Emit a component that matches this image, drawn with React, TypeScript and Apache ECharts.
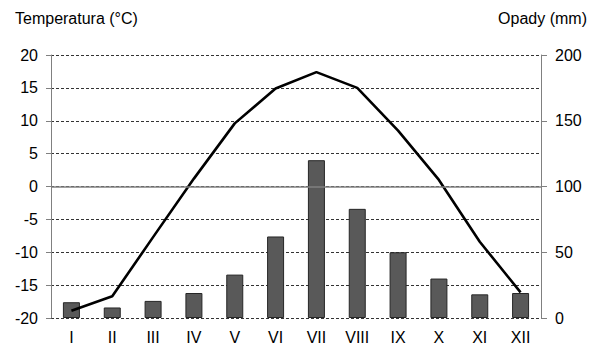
import React, { useEffect, useRef } from "react";
import * as echarts from "echarts";

const months = ["I", "II", "III", "IV", "V", "VI", "VII", "VIII", "IX", "X", "XI", "XII"];
const temperature = [-18.9, -16.7, -7.7, 1.2, 9.6, 14.9, 17.4, 15.0, 8.5, 1.0, -8.4, -16.1];
const precipitation = [12, 8, 13, 19, 33, 62, 120, 83, 50, 30, 18, 19];
const tempTicks = { min: -20, max: 20, interval: 5 };
const precTicks = { min: 0, max: 200, interval: 50 };

const FONT = "'Liberation Sans', Arial, sans-serif";

export default function App() {
  const ref = useRef<HTMLDivElement>(null);
  useEffect(() => {
    if (!ref.current) return;
    const chart = echarts.init(ref.current, undefined, { renderer: "svg" });
    chart.setOption({
      animation: false,
      backgroundColor: "#ffffff",
      textStyle: { fontFamily: FONT },
      grid: { left: 51, right: 58, top: 55, bottom: 28 },
      graphic: [
        {
          type: "text",
          left: 15,
          top: 10,
          style: { text: "Temperatura (°C)", font: `16px ${FONT}`, fill: "#000" },
        },
        {
          type: "text",
          right: 12,
          top: 10,
          style: { text: "Opady (mm)", font: `16px ${FONT}`, fill: "#000" },
        },
      ],
      xAxis: {
        type: "category",
        data: months,
        axisLine: { show: false },
        axisTick: { show: false },
        axisLabel: { color: "#000", fontSize: 16, fontFamily: FONT, margin: 11 },
        splitLine: { show: false },
      },
      yAxis: [
        {
          type: "value",
          position: "left",
          min: tempTicks.min,
          max: tempTicks.max,
          interval: tempTicks.interval,
          axisLine: { show: true, lineStyle: { color: "#808080", width: 1 } },
          axisTick: { show: true, length: 5, lineStyle: { color: "#808080" } },
          axisLabel: { color: "#000", fontSize: 16, fontFamily: FONT, margin: 13 },
          splitLine: { show: true, lineStyle: { color: "#333", width: 1, type: [3, 2] } },
        },
        {
          type: "value",
          position: "right",
          min: precTicks.min,
          max: precTicks.max,
          interval: precTicks.interval,
          axisLine: { show: true, lineStyle: { color: "#808080", width: 1 } },
          axisTick: { show: true, length: 6, lineStyle: { color: "#808080" } },
          axisLabel: { color: "#000", fontSize: 16, fontFamily: FONT, margin: 14 },
          splitLine: { show: false },
        },
      ],
      series: [
        {
          type: "bar",
          yAxisIndex: 1,
          data: precipitation,
          barWidth: 17,
          itemStyle: { color: "#595959", borderColor: "#262626", borderWidth: 1 },
          z: 2,
        },
        {
          type: "line",
          yAxisIndex: 0,
          data: temperature,
          symbol: "none",
          lineStyle: { color: "#000", width: 2.6 },
          z: 4,
          markLine: {
            silent: true,
            symbol: "none",
            label: { show: false },
            lineStyle: { color: "#808080", width: 1.5, type: "solid" },
            data: [{ yAxis: 0 }],
          },
        },
      ],
    });
    return () => chart.dispose();
  }, []);
  return <div ref={ref} style={{ width: 599, height: 346, position: "absolute", left: 0, top: 0 }} />;
}
